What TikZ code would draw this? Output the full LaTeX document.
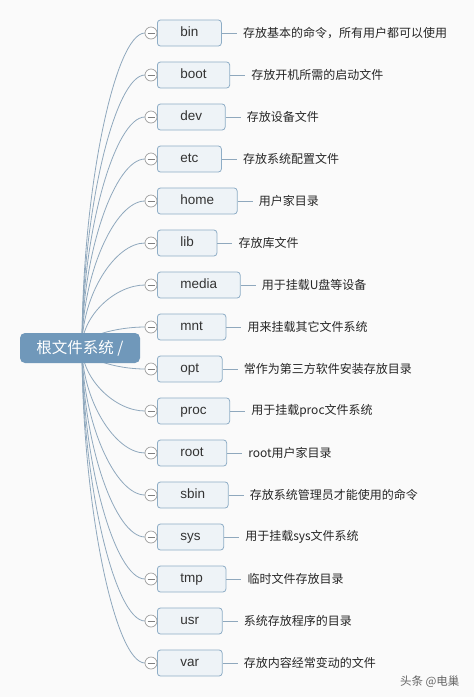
\documentclass[tikz,border=0pt]{standalone}
\usepackage{fontspec}
\setmainfont{Liberation Sans}
\newfontfamily\cjk{Noto Sans CJK SC}
\usetikzlibrary{calc}
\definecolor{rootblue}{HTML}{7098BA}
\definecolor{boxfill}{HTML}{EEF3F7}
\definecolor{boxline}{HTML}{8EADC6}
\definecolor{curvecol}{HTML}{8FA8BD}
\definecolor{bgcol}{HTML}{FAFAFA}
\begin{document}
\begin{tikzpicture}[x=1pt,y=-1pt,
  rootbox/.style={fill=rootblue, rounded corners=5pt, text=white, font=\cjk\fontsize{15.5}{17}\selectfont, minimum width=120pt, minimum height=30pt, inner sep=0pt},
  childbox/.style={draw=boxline, fill=boxfill, rounded corners=3pt, line width=0.8pt, minimum height=26pt, inner xsep=23pt, inner ysep=0pt, text height=10pt, text depth=3pt, anchor=west, text=black!80, font=\fontsize{13.5}{15}\selectfont},
  desc/.style={anchor=west, inner xsep=6pt, font=\cjk\fontsize{12}{14}\selectfont, text=black!85},
  toggle/.style={circle, draw=gray!75, fill=white, minimum size=12pt, inner sep=0pt, line width=0.7pt},
  branch/.style={draw=curvecol, line width=0.8pt},
  ]
\path[fill=bgcol] (0,0) rectangle (474,697);
\useasboundingbox (0,0) rectangle (474,697);
\coordinate (o) at (82,347);
% curves
\foreach \i in {0,...,15} {
  \pgfmathsetmacro\yy{33+42*\i}
  \pgfmathsetmacro\my{(347+\yy)/2}
  \coordinate (e\i) at (145,\yy);
  \draw[branch] (o) .. controls (82,\my) and (115,\yy) .. (e\i);
}
\node[rootbox] (root) at (80,348) {根文件系统 /};
\foreach \name/\desc [count=\i from 0] in {
  bin/存放基本的命令，所有用户都可以使用,
  boot/存放开机所需的启动文件,
  dev/存放设备文件,
  etc/存放系统配置文件,
  home/用户家目录,
  lib/存放库文件,
  media/用于挂载U盘等设备,
  mnt/用来挂载其它文件系统,
  opt/常作为第三方软件安装存放目录,
  proc/用于挂载proc文件系统,
  root/root用户家目录,
  sbin/存放系统管理员才能使用的命令,
  sys/用于挂载sys文件系统,
  tmp/临时文件存放目录,
  usr/系统存放程序的目录,
  var/存放内容经常变动的文件} {
  \pgfmathsetmacro\yy{33+42*\i}
  \node[childbox] (c\i) at (157,\yy) {\name};
  \node[toggle] (t\i) at (151,\yy) {};
  \draw[gray, line width=0.7pt] ($(t\i.center)+(-3.5,0)$) -- ($(t\i.center)+(3.5,0)$);
  \node[desc] (d\i) at ($(c\i.east)+(15,0)$) {\desc};
  \draw[branch] (c\i.east) -- (d\i.west);
}
\node[anchor=east, font=\cjk\fontsize{11.5}{13}\selectfont, text=black!60] (wm) at (463,682) {头条 @电巢};
\end{tikzpicture}
\end{document}
